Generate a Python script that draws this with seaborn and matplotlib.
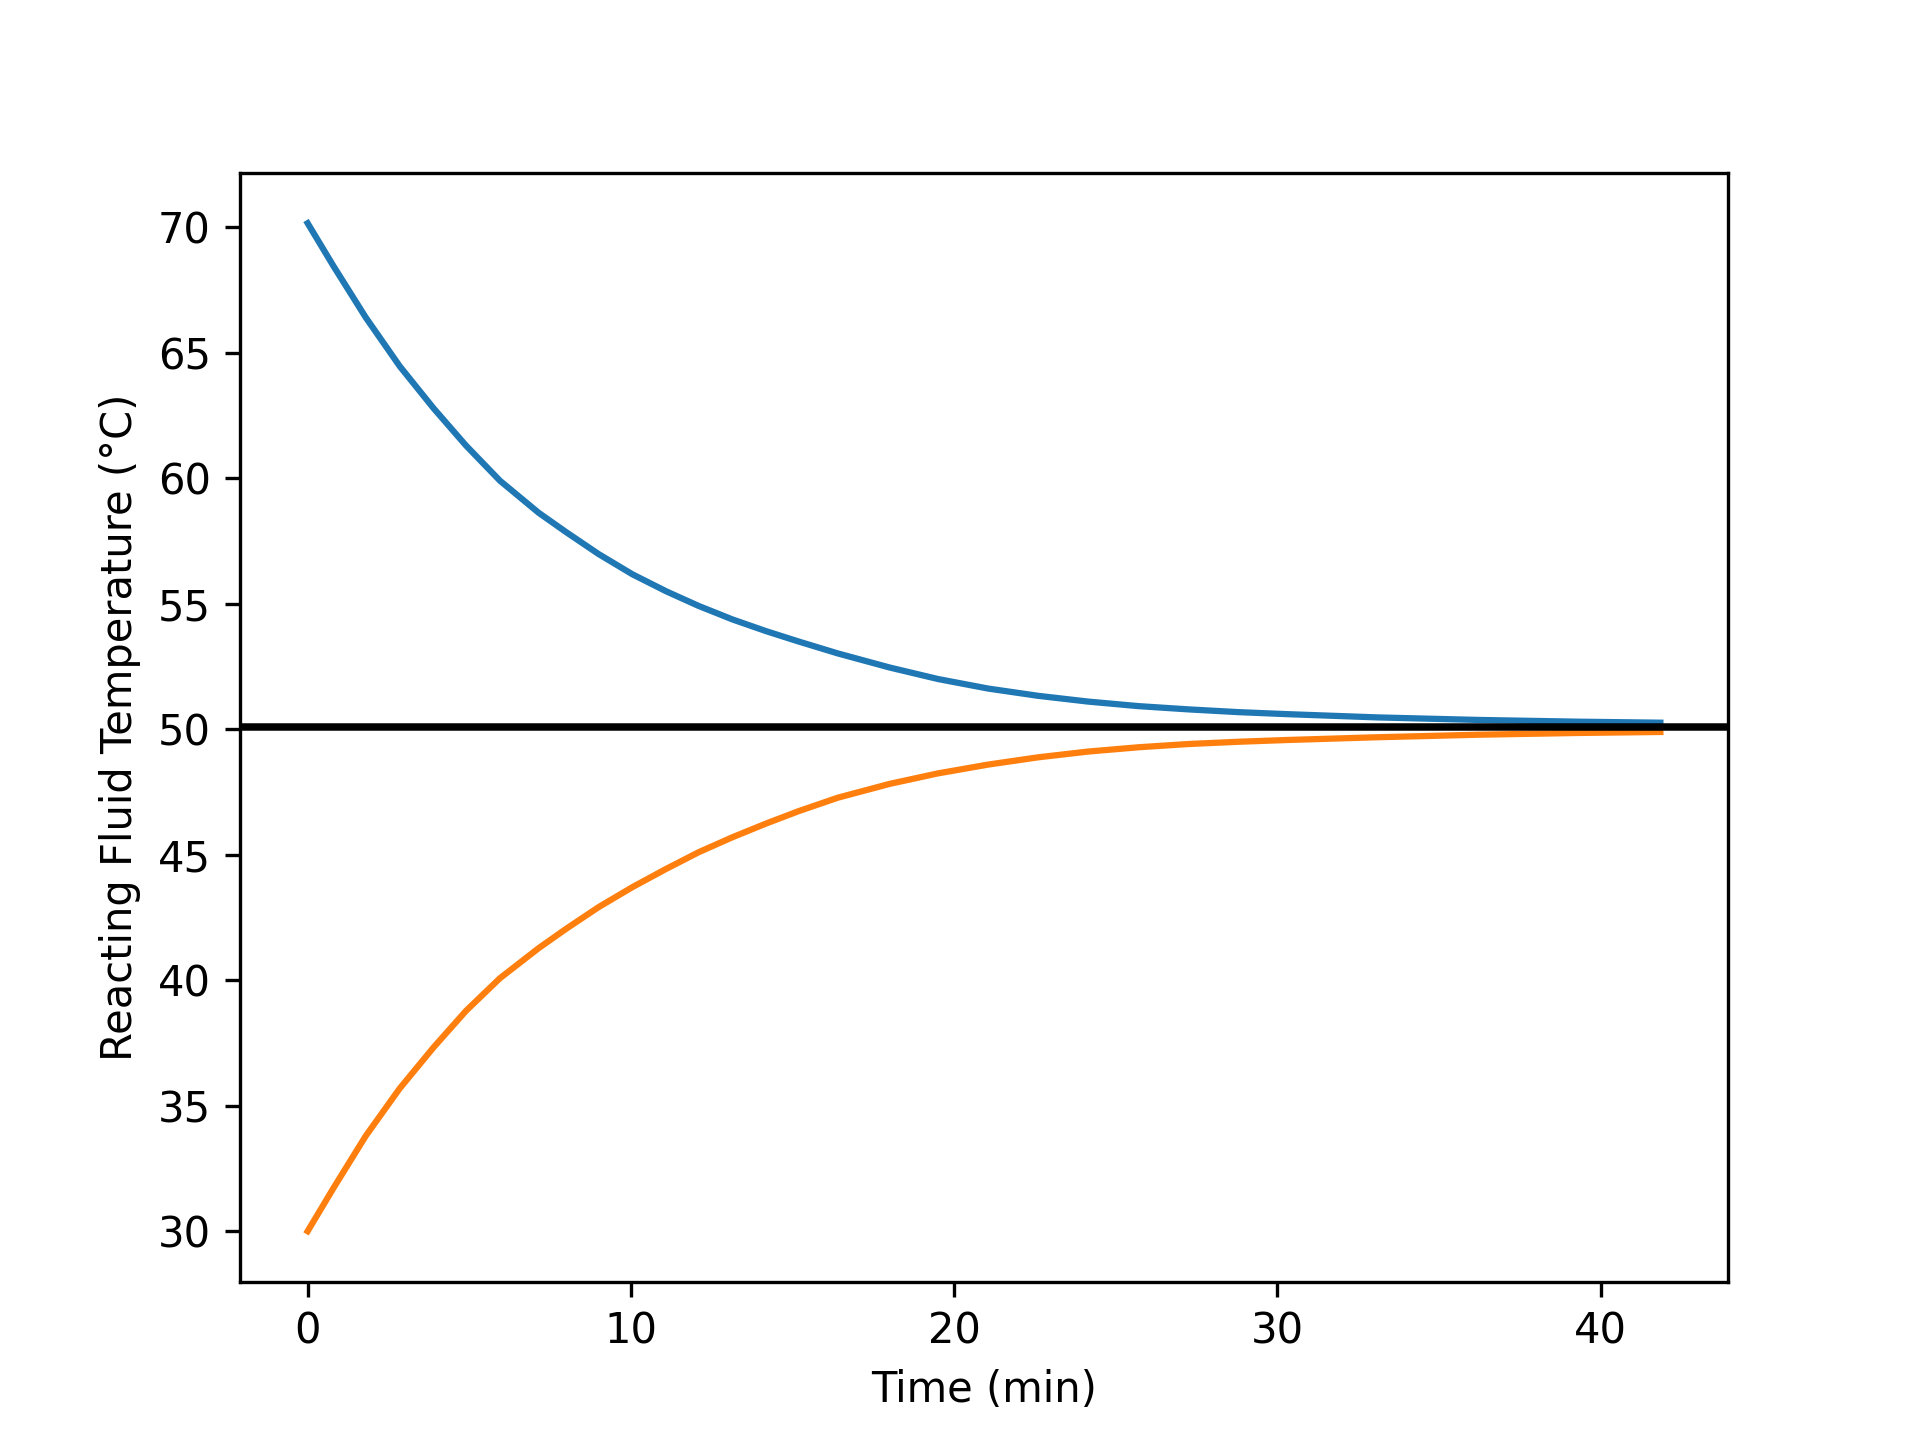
import matplotlib
matplotlib.use("Agg")
import matplotlib.pyplot as plt
import seaborn as sns

# values
time_min = [0, 0.8, 1.8, 2.85, 3.9, 4.9, 5.95, 7.15, 8.0, 9.0, 10.05, 11.1, 12.1,
            13.15, 14.2, 15.2, 16.4, 18.0, 19.5, 21.05, 22.6, 24.15, 25.7, 27.25,
            28.8, 30.3, 33.1, 36.2, 39.3, 41.85]
temp_hot = [70.16, 68.45, 66.40, 64.46, 62.78, 61.30, 59.90, 58.62, 57.85, 56.98,
            56.17, 55.49, 54.91, 54.37, 53.90, 53.49, 53.02, 52.46, 52.00, 51.62,
            51.33, 51.10, 50.92, 50.79, 50.68, 50.60, 50.47, 50.37, 50.30, 50.26]
temp_cold = [30.0, 31.72, 33.80, 35.69, 37.33, 38.78, 40.08, 41.28, 42.05, 42.91,
             43.71, 44.44, 45.10, 45.70, 46.25, 46.74, 47.27, 47.82, 48.24, 48.59,
             48.88, 49.11, 49.28, 49.41, 49.50, 49.57, 49.68, 49.78, 49.85, 49.89]
setpoint = 50.08

fig, ax = plt.subplots(figsize=(6.4, 4.8), dpi=300)

sns.lineplot(x=time_min, y=temp_hot, ax=ax, color='#1f77b4', linewidth=1.5)
sns.lineplot(x=time_min, y=temp_cold, ax=ax, color='#ff7f0e', linewidth=1.5)
ax.axhline(setpoint, color='black', linewidth=1.8)

ax.set_xlabel('Time (min)')
ax.set_ylabel('Reacting Fluid Temperature (°C)')

fig.savefig('out.png', dpi=300)
